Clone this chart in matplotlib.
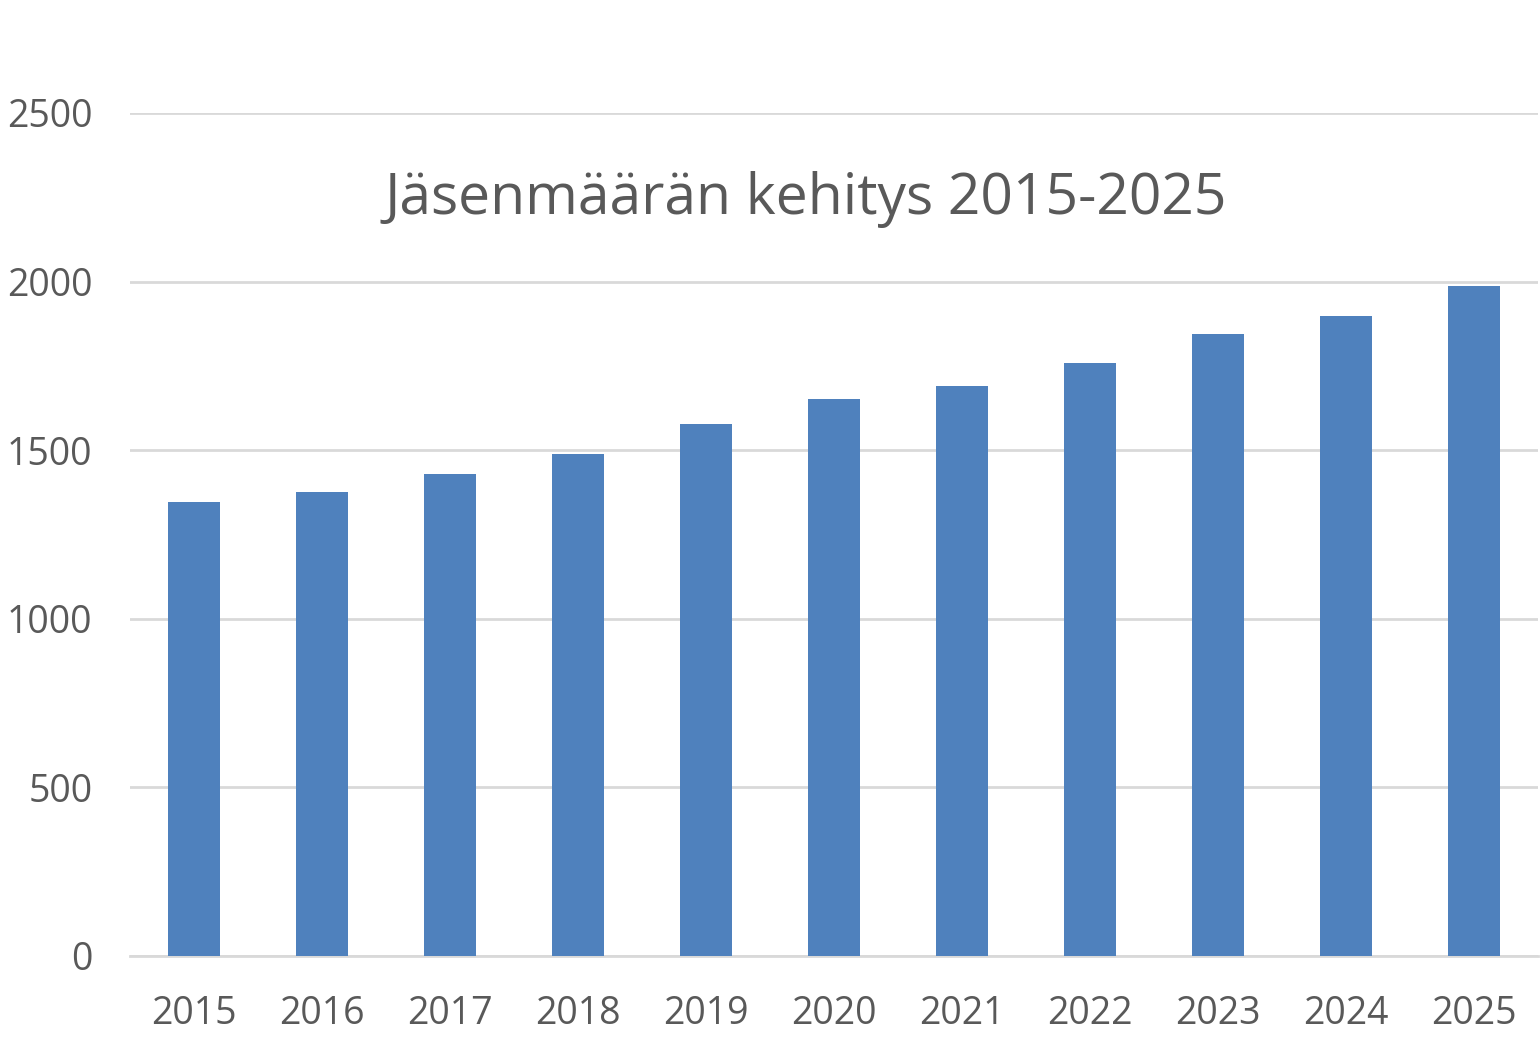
import matplotlib
matplotlib.use("Agg")
import matplotlib.pyplot as plt

years = ["2015", "2016", "2017", "2018", "2019", "2020", "2021", "2022", "2023", "2024", "2025"]
members = [1346, 1376, 1429, 1489, 1578, 1652, 1690, 1759, 1845, 1897, 1986]
y_ticks = [0, 500, 1000, 1500, 2000, 2500]
title = "Jäsenmäärän kehitys 2015-2025"

plt.rcParams['font.family'] = ['Open Sans', 'DejaVu Sans']
text_color = "#595959"

fig = plt.figure(figsize=(15.4, 10.45), dpi=100)
ax = fig.add_axes([130/1540, 89/1045, 1408/1540, 843/1045])

x = list(range(len(years)))
ax.bar(x, members, width=0.4, color="#4f81bd", zorder=3)
ax.set_xlim(-0.5, len(years) - 0.5)
ax.set_ylim(0, 2500)
ax.set_yticks(y_ticks)
ax.set_yticklabels([str(v) for v in y_ticks])
ax.set_xticks(x)
ax.set_xticklabels(years)
ax.grid(axis="y", color="#d9d9d9", linewidth=2, zorder=0)
ax.set_axisbelow(True)
for s in ["top", "right", "left"]:
    ax.spines[s].set_visible(False)
ax.spines["bottom"].set_color("#d9d9d9")
ax.spines["bottom"].set_linewidth(2)
ax.tick_params(axis="both", length=0, labelsize=27, colors=text_color)
ax.tick_params(axis="x", pad=28)
ax.tick_params(axis="y", pad=27)
for lbl in ax.get_yticklabels():
    lbl.set_horizontalalignment("right")

fig.text(806/1540, 1 - 199/1045, title, ha="center", va="center", fontsize=41, color=text_color)

fig.savefig("out.png", dpi=100)
